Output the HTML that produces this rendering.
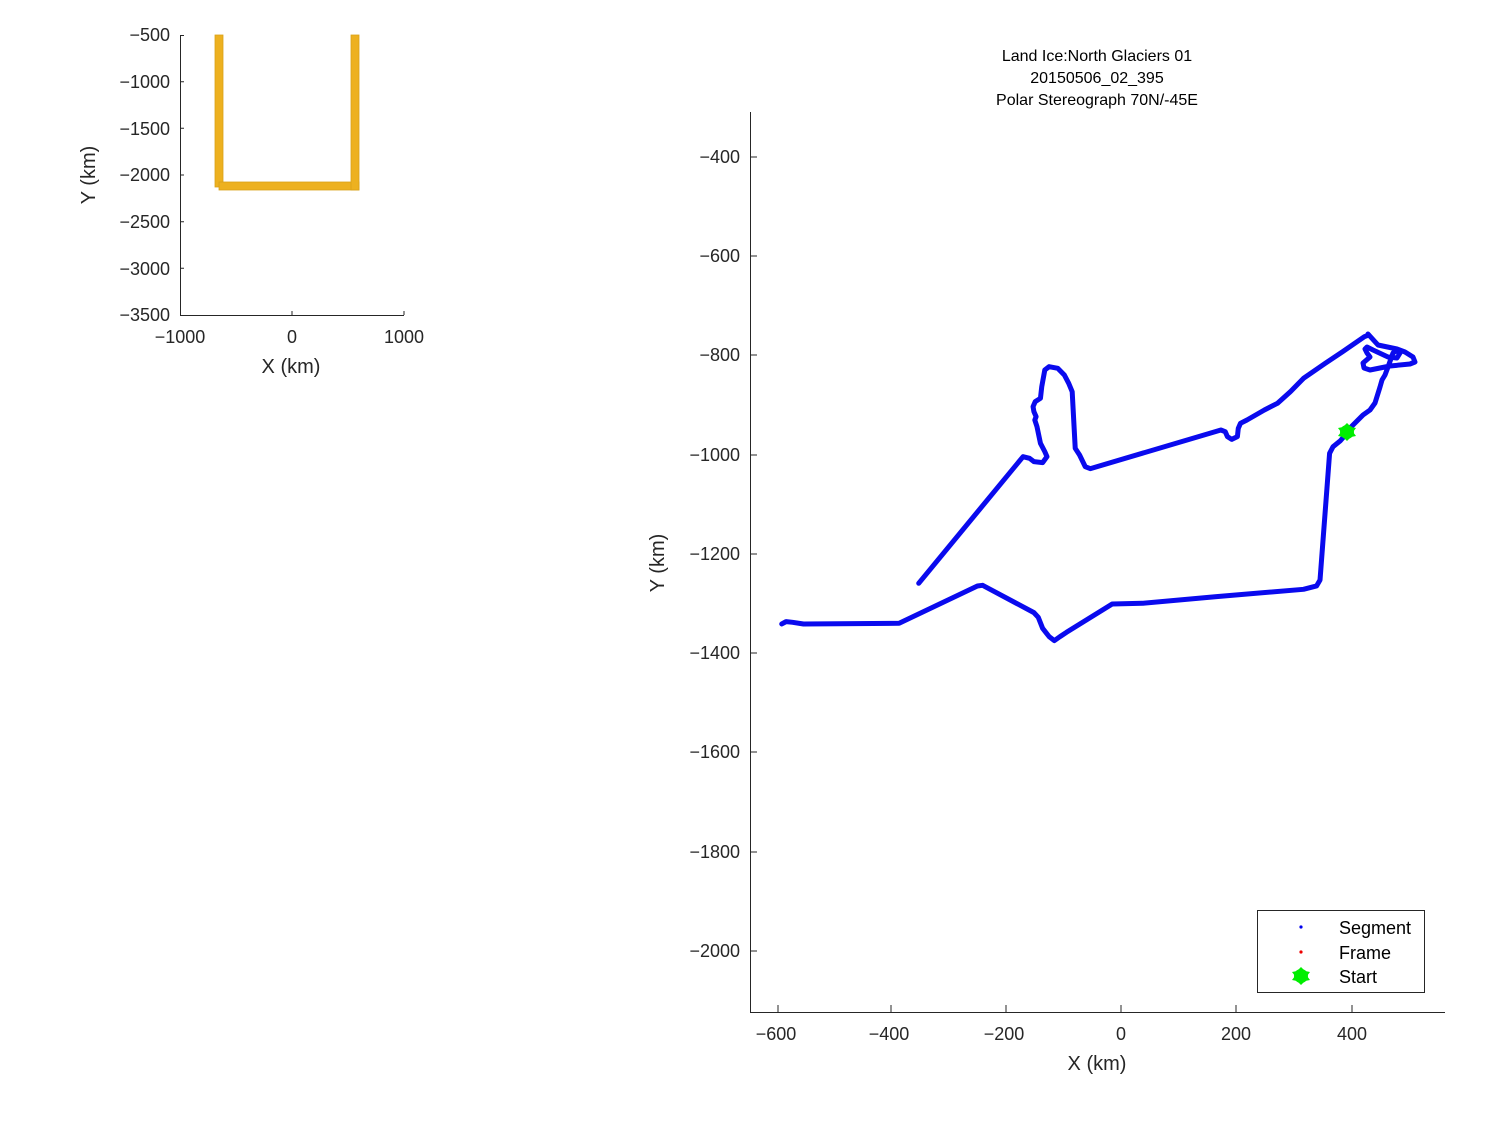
<!DOCTYPE html>
<html><head><meta charset="utf-8"><style>
html,body{margin:0;padding:0;background:#fff;}
svg{display:block;font-family:"Liberation Sans","DejaVu Sans",sans-serif;}
</style></head><body>
<svg width="1500" height="1125" viewBox="0 0 1500 1125" xmlns="http://www.w3.org/2000/svg">
<rect width="1500" height="1125" fill="#fff"/>

<!-- small axes -->
<g fill="#EDB120" stroke="#D9A21A" stroke-width="0.8">
<rect x="215" y="35" width="8" height="152"/>
<rect x="219" y="182" width="140" height="8"/>
<rect x="351" y="35" width="8" height="155"/>
</g>
<g stroke="#262626" stroke-width="1" fill="none">
<path d="M180.5,35 V315.5 H404"/>
<path d="M180,35.5h4M180,81.7h4M180,128.3h4M180,175h4M180,221.7h4M180,268.3h4"/>
<path d="M292,315v-4M404,315v-4"/>
</g>
<g fill="#262626" font-size="18" text-anchor="end">
<text x="170" y="41">−500</text>
<text x="170" y="88">−1000</text>
<text x="170" y="135">−1500</text>
<text x="170" y="181">−2000</text>
<text x="170" y="228">−2500</text>
<text x="170" y="275">−3000</text>
<text x="170" y="321">−3500</text>
</g>
<g fill="#262626" font-size="18" text-anchor="middle">
<text x="180" y="343">−1000</text>
<text x="292" y="343">0</text>
<text x="404" y="343">1000</text>
<text x="291" y="373" font-size="20">X (km)</text>
<text transform="translate(95,175) rotate(-90)" font-size="20">Y (km)</text>
</g>

<!-- main axes -->
<g stroke="#262626" stroke-width="1" fill="none">
<path d="M750.5,112 V1012.5 H1445"/>
<path d="M750,157h7M750,256h7M750,355h7M750,455h7M750,554h7M750,653h7M750,752h7M750,852h7M750,951h7"/>
<path d="M778,1012v-7M891,1012v-7M1006,1012v-7M1121,1012v-7M1236,1012v-7M1352,1012v-7"/>
</g>
<g fill="#262626" font-size="18" text-anchor="end">
<text x="740" y="163">−400</text>
<text x="740" y="262">−600</text>
<text x="740" y="361">−800</text>
<text x="740" y="461">−1000</text>
<text x="740" y="560">−1200</text>
<text x="740" y="659">−1400</text>
<text x="740" y="758">−1600</text>
<text x="740" y="858">−1800</text>
<text x="740" y="957">−2000</text>
</g>
<g fill="#262626" font-size="18" text-anchor="middle">
<text x="776" y="1040">−600</text>
<text x="889" y="1040">−400</text>
<text x="1004" y="1040">−200</text>
<text x="1121" y="1040">0</text>
<text x="1236" y="1040">200</text>
<text x="1352" y="1040">400</text>
<text x="1097" y="1070" font-size="20">X (km)</text>
<text transform="translate(664,563) rotate(-90)" font-size="20">Y (km)</text>
</g>
<g fill="#000" font-size="16" text-anchor="middle">
<text x="1097" y="61">Land Ice:North Glaciers 01</text>
<text x="1097" y="83">20150506_02_395</text>
<text x="1097" y="105">Polar Stereograph 70N/-45E</text>
</g>

<!-- track -->
<g fill="none" stroke="#0a0aee" stroke-width="5" stroke-linejoin="round" stroke-linecap="round">
<g transform="translate(760 320) scale(0.4348 0.3333)">
<path vector-effect="non-scaling-stroke" d="M50,912 L60,905 75,907 100,912 320,910 500,798 512,796 630,878 640,892 650,925 665,950 677,962 690,950 705,937 810,852 880,850 1050,830 1250,808 1280,798 1288,780 1310,400 1318,380 1335,362 1353,335"/>
<path vector-effect="non-scaling-stroke" d="M1400,45 L1390,50 1340,95 1300,130 1250,175 1220,215 1190,250 1160,270 1140,285 1120,300 1105,310 1100,325 1098,350 1085,358 1075,350 1070,335 1060,330 760,446 748,440 735,405 725,385 718,215 710,190 700,165 685,145 665,140 655,150 648,200 645,235 633,245 628,260 630,275 635,290 632,300 637,320 645,370 655,395 660,410 650,428 630,425 620,415 605,410 365,790"/>
</g>
<path d="M1348,430 L1363,415 1370,410 1375,403 1380,387 1382,380 1385,375 1388,367 1393,353 1398,350 1400,353 1397,358 1388,357 1373,350 1367,347 1365,349 1367,353 1370,357 1363,363 1364,368 1370,370 1390,366 1410,364 1415,362 1413,357 1405,352 1397,349 1378,345 1368,334"/>
</g>
<!-- start marker -->
<g fill="#00ee00">
<circle cx="1347" cy="432" r="7"/>
<polygon points="1347,423 1351,427 1356,428 1353,432 1356,436 1351,437 1347,441 1343,437 1338,436 1341,432 1338,428 1343,427"/>
</g>

<!-- legend -->
<rect x="1257.5" y="910.5" width="167" height="82" fill="#fff" stroke="#262626" stroke-width="1"/>
<circle cx="1301" cy="927" r="1.6" fill="#0000ee"/>
<circle cx="1301" cy="952" r="1.6" fill="#ee0000"/>
<g fill="#00ee00">
<circle cx="1301" cy="976" r="7"/>
<polygon points="1301,967 1305,971 1310,972 1307,976 1310,980 1305,981 1301,985 1297,981 1292,980 1295,976 1292,972 1297,971"/>
</g>
<g fill="#000" font-size="18">
<text x="1339" y="934">Segment</text>
<text x="1339" y="959">Frame</text>
<text x="1339" y="983">Start</text>
</g>
</svg>
</body></html>
